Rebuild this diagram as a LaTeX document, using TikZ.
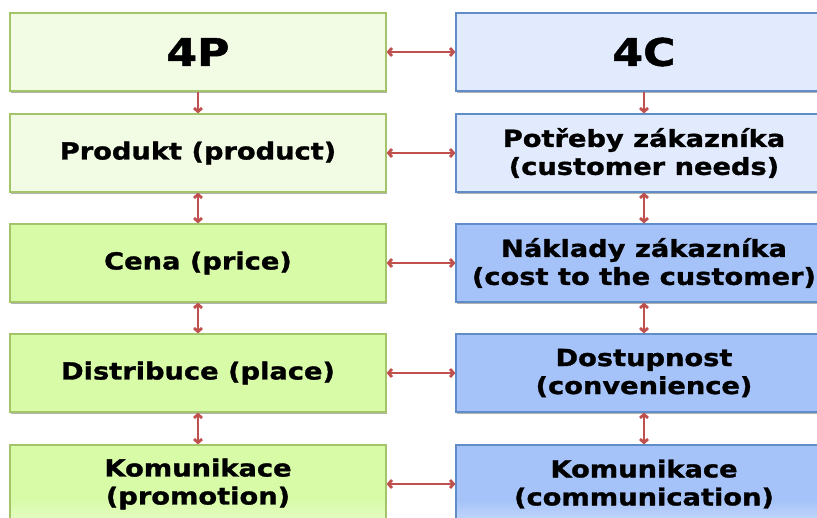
\documentclass[tikz,border=0pt]{standalone}
\usepackage{fontspec}
\setmainfont[FakeStretch=1.16,BoldFeatures={FakeBold=1.3}]{DejaVu Sans}
\usetikzlibrary{arrows.meta,shadows}
\definecolor{greenpale}{RGB}{242,252,229}
\definecolor{greenfill}{RGB}{216,251,168}
\definecolor{greenline}{RGB}{163,196,105}
\definecolor{bluepale}{RGB}{225,235,253}
\definecolor{bluefill}{RGB}{165,195,249}
\definecolor{blueline}{RGB}{96,140,200}
\definecolor{linkred}{RGB}{192,80,77}
\pgfdeclareverticalshading{greenfade}{100bp}{color(0bp)=(white!85!greenfill); color(12bp)=(white!65!greenfill); color(40bp)=(greenfill); color(100bp)=(greenfill)}
\pgfdeclareverticalshading{bluefade}{100bp}{color(0bp)=(white!85!bluefill); color(12bp)=(white!65!bluefill); color(40bp)=(bluefill); color(100bp)=(bluefill)}

\begin{document}
\begin{tikzpicture}[x=1pt,y=-1pt,
  box/.style={line width=1.2pt,minimum width=376pt,minimum height=78pt,inner sep=0pt,align=center,
    font=\bfseries\fontsize{23.5}{28}\selectfont,
    drop shadow={shadow xshift=0.5pt,shadow yshift=-2pt,opacity=.3,fill=black}},
  pbox/.style={box,draw=greenline,fill=greenfill},
  cbox/.style={box,draw=blueline,fill=bluefill},
  head/.style={font=\bfseries\fontsize{38}{40}\selectfont},
  link/.style={draw=linkred,line width=2.8pt,>={Straight Barb[length=3.5pt,width=8pt]}}]
\useasboundingbox (0,0) rectangle (817,517);
\clip (0,0) rectangle (817,517);

\node[pbox,head,fill=greenpale] (p1) at (198,52) {4P};
\node[pbox,fill=greenpale] (p2) at (198,153) {Produkt (product)};
\node[pbox] (p3) at (198,263) {Cena (price)};
\node[pbox] (p4) at (198,373) {Distribuce (place)};
\node[pbox,shade,shading=greenfade] (p5) at (198,484) {Komunikace\\(promotion)};

\node[cbox,head,fill=bluepale] (c1) at (644,52) {4C};
\node[cbox,fill=bluepale] (c2) at (644,153) {Potřeby zákazníka\\(customer needs)};
\node[cbox] (c3) at (644,263) {Náklady zákazníka\\(cost to the customer)};
\node[cbox] (c4) at (644,373) {Dostupnost\\(convenience)};
\node[cbox,shade,shading=bluefade] (c5) at (644,484) {Komunikace\\(communication)};

\foreach \i in {1,...,5}
  \draw[link,<->] (p\i.east) -- (c\i.west);
\draw[link,->] (p1.south) -- (p2.north);
\draw[link,->] (c1.south) -- (c2.north);
\foreach \i/\j in {2/3,3/4,4/5}{
  \draw[link,<->] (p\i.south) -- (p\j.north);
  \draw[link,<->] (c\i.south) -- (c\j.north);
}
\end{tikzpicture}
\end{document}
